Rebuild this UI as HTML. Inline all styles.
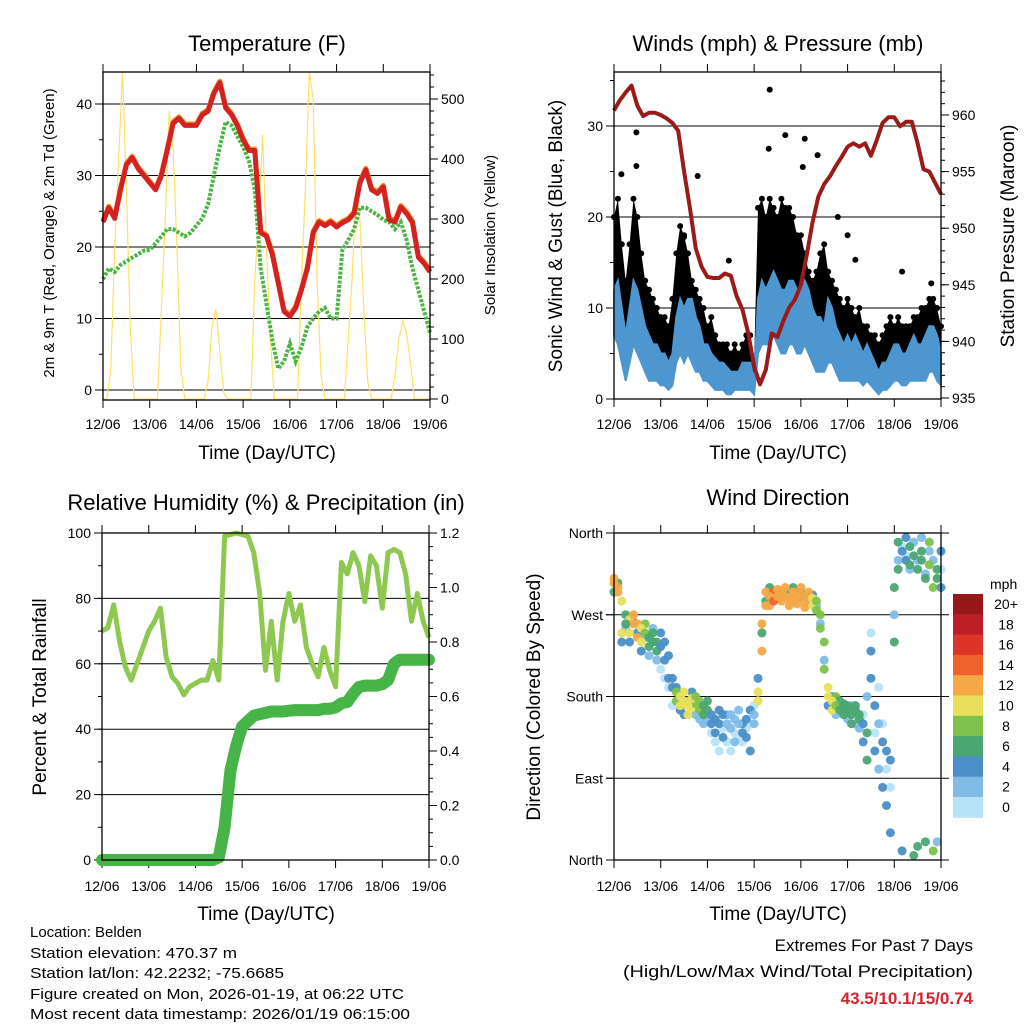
<!DOCTYPE html>
<html><head><meta charset="utf-8"><style>
html,body{margin:0;padding:0;background:#fff;}
svg{display:block;font-family:"Liberation Sans",sans-serif;}
</style></head><body>
<svg id="chart" width="1024" height="1024" viewBox="0 0 1024 1024" xmlns="http://www.w3.org/2000/svg">
<rect x="0" y="0" width="1024" height="1024" fill="#fff"/>
<g font-size="22" text-anchor="middle" fill="#000">
<text x="267" y="51">Temperature (F)</text>
<text x="778" y="51">Winds (mph) &amp; Pressure (mb)</text>
<text x="266" y="510">Relative Humidity (%) &amp; Precipitation (in)</text>
<text x="778" y="505">Wind Direction</text>
</g>
<g font-size="19" text-anchor="middle" fill="#000">
<text x="267" y="459">Time (Day/UTC)</text>
<text x="778" y="459">Time (Day/UTC)</text>
<text x="266" y="920">Time (Day/UTC)</text>
<text x="778" y="920">Time (Day/UTC)</text>
<text transform="translate(54,233) rotate(-90)" font-size="15">2m &amp; 9m T (Red, Orange) &amp; 2m Td (Green)</text>
<text transform="translate(495,235) rotate(-90)" font-size="15">Solar Insolation (Yellow)</text>
<text transform="translate(562,236) rotate(-90)">Sonic Wind &amp; Gust (Blue, Black)</text>
<text transform="translate(1014,236) rotate(-90)">Station Pressure (Maroon)</text>
<text transform="translate(46,697) rotate(-90)">Percent &amp; Total Rainfall</text>
<text transform="translate(540,697) rotate(-90)">Direction (Colored By Speed)</text>
</g>
<g font-size="15" fill="#000">
<text x="30" y="937">Location: Belden</text>
<text x="30" y="958" textLength="207" lengthAdjust="spacingAndGlyphs">Station elevation: 470.37 m</text>
<text x="30" y="978" textLength="254" lengthAdjust="spacingAndGlyphs">Station lat/lon: 42.2232; -75.6685</text>
<text x="30" y="999" textLength="374" lengthAdjust="spacingAndGlyphs">Figure created on Mon, 2026-01-19, at 06:22 UTC</text>
<text x="30" y="1019" textLength="380" lengthAdjust="spacingAndGlyphs">Most recent data timestamp: 2026/01/19 06:15:00</text>
</g>
<g font-size="17" fill="#000" text-anchor="end">
<text x="973" y="951">Extremes For Past 7 Days</text>
<text x="973" y="977" textLength="350" lengthAdjust="spacingAndGlyphs">(High/Low/Max Wind/Total Precipitation)</text>
<text x="973" y="1004" fill="#d0262d" font-weight="bold">43.5/10.1/15/0.74</text>
</g>
</svg>
<script>
// ---------- data ----------
const dayLabels=['12/06','13/06','14/06','15/06','16/06','17/06','18/06','19/06'];
// 3-hourly temperature (F)
const temp=[23.5,25.5,24,28,31.5,32.5,31,30,29,28,30,33.5,37.3,38,37,37,37,38.5,39,41.5,43,39.5,38.5,37,35,33.5,33.5,22,21.5,19,15,11,10.3,11.5,14,17,22,23.5,23,23.5,22.8,23.4,23.8,24.7,29,30.8,28,27.5,28.4,23.8,23.5,25.6,24.7,23.4,18.6,17.7,16.5];
const dewp=[15.5,17,16.5,17.5,18,18.5,19,19.5,19.6,20.5,21.5,22.5,22.5,22,21.5,22,23,24,26,30,34,37.5,37,35.5,34,32,28,17,12,7,3,4,6.5,4,6,8.8,10,11,11.5,10,10,19.6,21,22.5,25.5,25.5,25,24.5,23.8,23.5,22.5,23.5,21,17,14,11,8];
// 2-hourly solar insolation
const solar=[0,0,50,250,400,545,350,120,0,0,0,0,0,0,0,150,300,480,420,250,50,0,0,0,0,0,0,30,120,150,80,10,0,0,0,0,0,0,0,200,300,440,250,100,0,0,0,0,0,0,0,200,350,545,500,200,40,0,0,0,0,0,0,100,200,350,300,150,30,0,0,0,0,0,0,40,100,130,110,60,0,0,0,0,0];
// 2-hourly wind (mph)
const windLo=[7,6,4,2,4,6,5,4,3,2,2,2,1.5,1.5,1,1.5,4,5,4,5,4,3,3,2,2,1.5,1,1,1,0.5,0.5,1,1,1,1,1,0.5,5,6,6,6,7,6,5,5,6,6,5,5,6,5,4,3,3,3,4,4,3,2,2,2,2,2,2,1.5,2,1.5,1,0.5,1,1,1.5,2,2,1.5,1.5,2,2,2,2,2,3,3,2,1.5];
const windHi=[12,13,10,7,10,13,12,10,8,7,6,6,5,5,4,5,9,11,10,11,11,9,8,6,6,5,4.5,4,4,3.5,3,3,3,4,4,4,2,11,13,12,13,14,13,12,12,13,13,12,12,13,12,10,9,9,8,11,10,8,7,6,7,6,7,6,5,6,5,4,3,4,4,5,6,6,5,5,6,7,6,6,7,8,8,7,5];
const gust=[20,22,17,13,17,22,20,16,13,12,11,10,9,9,8,11,16,19,18,16,13,12,11,10,8,9,7,6,6,6,5,6,5,6,7,7,4,21,22,20,22,21,20,22,21,21,20,18,18,16,14,13,14,16,17,14,13,12,11,10,11,10,9,10,8,8,7,7,6,7,8,9,8,9,8,8,8,9,9,10,10,11,11,10,8];
const outlierHours=[3.8,11.5,11.5,36,43,59,79.5,80,88,97,98,104.6,115,120,124,148,163];
const outlierGusts=[24.7,29.3,25.6,17.8,24.5,15.2,27.5,34,29,25.5,28.6,26.8,20,18,15.3,14,12.7];
// 3-hourly pressure (mb)
const pressure=[960.4,961.3,962,962.6,960.8,959.9,960.2,960.2,960,959.7,959.3,958.6,955,951.8,948.2,946.6,945.7,945.6,945.6,946,945.8,944,942.8,940.7,937.8,936.2,937.5,940.7,940.4,941.8,943,943.7,945,947.6,950.5,952.8,953.9,954.6,955.5,956.3,957.2,957.5,957.2,957.5,956.4,957.8,959.3,959.8,959.8,959,959.4,959.4,957.5,955.2,955,954,953];
// 3-hourly RH (%) and precipitation (in)
const rh=[70,71,78,67,59,55,60,65,70,73,77,62,56,54,50.5,53,54,55,55,61,55,99,99.5,100,99.5,99,94,81.5,58,73,55,73,81.5,73,78,65,60,56,65,58,53,91,87.5,94,90,79,93,90,77,94,95,94,87.5,73,81.5,73,68];
const precip=[0,0,0,0,0,0,0,0,0,0,0,0,0,0,0,0,0,0,0,0,0.01,0.12,0.33,0.42,0.49,0.51,0.53,0.535,0.54,0.545,0.545,0.545,0.548,0.55,0.55,0.55,0.55,0.55,0.555,0.555,0.56,0.575,0.58,0.61,0.635,0.64,0.64,0.64,0.645,0.66,0.72,0.735,0.735,0.735,0.735,0.735,0.735];
// 2-hourly wind direction samples (deg)
const dirA=[305,300,285,260,250,270,260,255,250,245,250,240,235,240,225,200,185,180,175,170,178,180,175,170,165,160,155,165,160,150,160,155,150,140,155,165,160,175,230,280,290,285,290,295,290,288,285,290,292,285,290,288,285,270,240,190,175,170,165,172,165,160,165,155,150,140,200,170,150,130,120,110,240,320,340,330,325,335,320,330,310,325,300,310,300];
const dirB=[310,295,250,270,265,260,245,240,260,235,240,230,250,220,200,190,175,170,185,160,168,172,165,160,175,150,140,150,135,160,145,130,165,150,135,120,150,185,260,295,280,295,298,285,300,280,295,282,300,278,295,280,275,255,210,180,165,180,175,160,170,150,170,160,130,110,230,120,100,80,60,30,300,350,10,355,345,5,15,340,20,350,10,320,340];
const dirC=[295,305,240,255,240,262,250,230,245,225,255,220,210,200,190,170,190,165,160,175,185,160,155,150,155,140,130,120,145,130,120,140,135,130,145,150,170,200,250,285,300,290,288,290,295,290,300,288,295,290,282,292,280,260,220,170,180,160,170,165,155,170,150,145,160,180,250,140,190,150,100,80,270,330,345,335,320,350,330,355,315,340,330,20,320];
const speedBins=['0','2','4','6','8','10','12','14','16','18','20+'];
const binColors=['#b6e3f8','#80bce6','#4a8fc7','#4aa772','#7ec24b','#e8e05a','#f6a846','#f0622c','#dd3428','#be1e28','#981719'];
</script>
<script>
const NS='http://www.w3.org/2000/svg';
const svg=document.getElementById('chart');
function mk(tag,attrs,parent){const e=document.createElementNS(NS,tag);for(const k in attrs)e.setAttribute(k,attrs[k]);(parent||svg).appendChild(e);return e;}
function scale(d0,d1,r0,r1){return v=>r0+(v-d0)*(r1-r0)/(d1-d0);}
function pts(xs,ys){return xs.map((x,i)=>x.toFixed(1)+','+ys[i].toFixed(1)).join(' ');}

const panels={
 temp:{x0:103,x1:430,y0:72,y1:400},
 wind:{x0:614,x1:941,y0:72,y1:399},
 rh:{x0:102,x1:429,y0:533,y1:860},
 dir:{x0:614,x1:941,y0:533,y1:860}
};
function xAxis(p,g,labY){
  const sx=scale(0,168,p.x0,p.x1);
  dayLabels.forEach((lab,i)=>{
    const x=sx(i*24);
    const t1=mk('line',{x1:x,x2:x,y1:p.y1,y2:p.y1+8,stroke:'#000','stroke-width':1},g);
    
    
    const t2=mk('line',{x1:x,x2:x,y1:p.y0,y2:p.y0-8,stroke:'#000','stroke-width':1},g);
    
    
    const tx=mk('text',{x:x,y:labY,'font-size':14,'text-anchor':'middle'},g);
    tx.textContent=lab;
    
    
  });
  return sx;
}
function yAxis(g,p,sy,majors,minorStep,lo,hi,side,labels,grid){
  const xe=side==='left'?p.x0:p.x1, dir=side==='left'?-1:1;
  for(let v=lo;v<=hi+1e-9;v+=minorStep){
    const y=sy(v); if(y<p.y0-0.5||y>p.y1+0.5)continue;
    const m=mk('line',{x1:xe,x2:xe+dir*4,y1:y,y2:y,stroke:'#000','stroke-width':1},g);
    
    
  }
  majors.forEach((v,i)=>{
    const y=sy(v);
    if(grid){
      const gl=mk('line',{x1:p.x0,x2:p.x1,y1:y,y2:y,stroke:'#000','stroke-width':1},g);
      
      
    }
    const t=mk('line',{x1:xe,x2:xe+dir*8,y1:y,y2:y,stroke:'#000','stroke-width':1},g);
    
    
    const tx=mk('text',{x:xe+dir*11,y:y+5,'font-size':14,'text-anchor':side==='left'?'end':'start'},g);
    tx.textContent=labels[i];
    
    
  });
}
function frame(p,g){
  const r=mk('rect',{x:p.x0,y:p.y0,width:p.x1-p.x0,height:p.y1-p.y0,fill:'none',stroke:'#000','stroke-width':1.3},g);
  
  
}
const h3=temp.map((_,i)=>i*3), h2=solar.map((_,i)=>i*2);

// ---------- Temperature panel ----------
{
 const p=panels.temp;
 const g=mk('g',{});
 
 
 const sx=xAxis(p,g,429);
 const sy=scale(0,40,390,104), ss=scale(0,500,399,99);
 yAxis(g,p,sy,[0,10,20,30,40],5,0,45,'left',['0','10','20','30','40'],true);
 yAxis(g,p,ss,[0,100,200,300,400,500],20,0,560,'right',['0','100','200','300','400','500'],false);
 const sol=mk('polyline',{points:pts(h2.map(sx),solar.map(ss)),fill:'none',stroke:'#ffe066','stroke-width':1.2},g);
 
 
 const dp=mk('polyline',{points:pts(h3.map(sx),dewp.map(sy)),fill:'none',stroke:'#4bb543','stroke-width':4,'stroke-dasharray':'3 1.5'},g);
 
 
 const t9=mk('polyline',{points:pts(h3.map(h=>sx(h)),temp.map(v=>sy(v)-1.5)),fill:'none',stroke:'#f39232','stroke-width':5,'stroke-linejoin':'round'},g);
 
 
 const t2=mk('polyline',{points:pts(h3.map(sx),temp.map(sy)),fill:'none',stroke:'#d42222','stroke-width':5,'stroke-linejoin':'round'},g);
 
 
 frame(p,g);
}
// ---------- Wind panel ----------
{
 const p=panels.wind;
 const g=mk('g',{});
 
 
 const sx=xAxis(p,g,429);
 const sy=scale(0,30,399,126), sp=scale(935,960,398,115);
 yAxis(g,p,sy,[0,10,20,30],5,0,35,'left',['0','10','20','30'],true);
 yAxis(g,p,sp,[935,940,945,950,955,960],1,935,964,'right',['935','940','945','950','955','960'],false);
 const xs=h2.map(sx);
 const blk=mk('polygon',{points:pts(xs,gust.map(sy))+' '+pts(xs.slice().reverse(),windLo.slice().reverse().map(sy)),fill:'#000'},g);
 
 
 gust.forEach((v,i)=>{
   const c=mk('circle',{cx:xs[i],cy:sy(v),r:3,fill:'#000'},g);
   
   
 });
 outlierHours.forEach((h,i)=>{
   const c=mk('circle',{cx:sx(h),cy:sy(outlierGusts[i]),r:3,fill:'#000'},g);
   
   
 });
 const blu=mk('polygon',{points:pts(xs,windHi.map(sy))+' '+pts(xs.slice().reverse(),windLo.slice().reverse().map(sy)),fill:'#4d96d0',stroke:'#4d96d0','stroke-width':2},g);
 
 
 const pl=mk('polyline',{points:pts(h3.map(sx),pressure.map(sp)),fill:'none',stroke:'#9b1b1b','stroke-width':4,'stroke-linejoin':'round'},g);
 
 
 frame(p,g);
}
// ---------- RH panel ----------
{
 const p=panels.rh;
 const g=mk('g',{});
 
 
 const sx=xAxis(p,g,891);
 const sy=scale(0,100,860,533), sr=scale(0,1.2,860,533);
 yAxis(g,p,sy,[0,20,40,60,80,100],10,0,100,'left',['0','20','40','60','80','100'],true);
 yAxis(g,p,sr,[0,0.2,0.4,0.6,0.8,1.0,1.2],0.05,0,1.2,'right',['0.0','0.2','0.4','0.6','0.8','1.0','1.2'],false);
 const r=mk('polyline',{points:pts(h3.map(sx),rh.map(sy)),fill:'none',stroke:'#8fc851','stroke-width':5,'stroke-linejoin':'round'},g);
 
 
 const pr=mk('polyline',{points:pts(h3.map(sx),precip.map(sr)),fill:'none',stroke:'#46b446','stroke-width':12,'stroke-linejoin':'round','stroke-linecap':'round'},g);
 
 
 frame(p,g);
}
// ---------- Wind direction panel ----------
{
 const p=panels.dir;
 const g=mk('g',{});
 
 
 const sx=xAxis(p,g,891);
 const sd=scale(0,360,860,533);
 [0,90,180,270,360].forEach(v=>{
   const y=sd(v);
   const gl=mk('line',{x1:p.x0-8,x2:p.x1+8,y1:y,y2:y,stroke:'#000','stroke-width':1},g);
   
   
 });
 yAxis(g,p,sd,[0,90,180,270,360],360,0,360,'left',['North','East','South','West','North'],false);
 function col(s){return binColors[Math.max(0,Math.min(10,Math.floor(s/2)))];}
 const sets=[[dirC,windLo],[dirB,windHi],[dirA,windHi]];
 sets.forEach(([arr,spd])=>{
   arr.forEach((d,i)=>{
     const c=mk('circle',{cx:sx(h2[i]),cy:sd(d),r:4.5,fill:col(spd[i]),opacity:0.95},g);
     
     
   });
 });
 frame(p,g);
 // colorbar
 const cb=mk('g',{});
 
 
 const top=594,bh=20.3;
 const u=mk('text',{x:990,y:589,'font-size':14},cb);
 u.textContent='mph';
 
 
 speedBins.slice().reverse().forEach((lab,k)=>{
   const idx=10-k;
   const rc=mk('rect',{x:953,y:top+k*bh,width:30,height:bh+0.5,fill:binColors[idx]},cb);
   
   
   const tx=mk('text',{x:1006,y:top+k*bh+15,'font-size':14,'text-anchor':'middle'},cb);
   tx.textContent=lab;
   
   
 });
}
</script>
</body></html>
